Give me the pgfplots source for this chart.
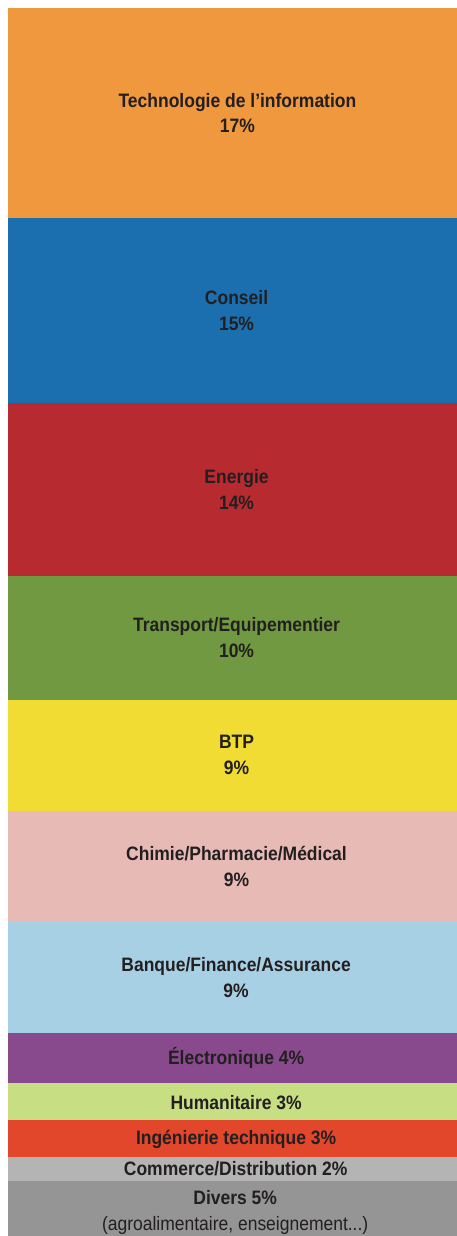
\documentclass[border=0pt]{standalone}
\usepackage{pgfplots}
\pgfplotsset{compat=1.18}
\usepackage{fontspec}
\setmainfont{Liberation Sans}[FakeStretch=0.9]
\definecolor{c1}{HTML}{F0983E}
\definecolor{c2}{HTML}{1B6FAE}
\definecolor{c3}{HTML}{B72B30}
\definecolor{c4}{HTML}{709942}
\definecolor{c5}{HTML}{F1DC33}
\definecolor{c6}{HTML}{E8BAB5}
\definecolor{c7}{HTML}{A8D0E4}
\definecolor{c8}{HTML}{884A8C}
\definecolor{c9}{HTML}{C7DE83}
\definecolor{c10}{HTML}{E2472B}
\definecolor{c11}{HTML}{B4B4B4}
\definecolor{c12}{HTML}{959595}
\definecolor{txt}{HTML}{231F20}
\tikzset{lbl/.style={font=\bfseries\fontsize{19.5}{26}\selectfont, align=center, text=txt}}
\begin{document}
\begin{tikzpicture}
\begin{axis}[at={(0,0)}, anchor=south west, scale only axis,
  width=449bp, height=1228bp, xmin=0, xmax=1, ymin=0, ymax=99.43,
  y dir=reverse, hide axis, ybar stacked, bar width=449bp, clip=true]
\addplot[fill=c1, draw=none] coordinates {(0.5,17)};
\addplot[fill=c2, draw=none] coordinates {(0.5,15)};
\addplot[fill=c3, draw=none] coordinates {(0.5,14)};
\addplot[fill=c4, draw=none] coordinates {(0.5,10)};
\addplot[fill=c5, draw=none] coordinates {(0.5,9)};
\addplot[fill=c6, draw=none] coordinates {(0.5,9)};
\addplot[fill=c7, draw=none] coordinates {(0.5,9)};
\addplot[fill=c8, draw=none] coordinates {(0.5,4)};
\addplot[fill=c9, draw=none] coordinates {(0.5,3)};
\addplot[fill=c10, draw=none] coordinates {(0.5,3)};
\addplot[fill=c11, draw=none] coordinates {(0.5,2)};
\addplot[fill=c12, draw=none] coordinates {(0.5,5)};
\coordinate (p1) at (axis cs:0.511,8.5);
\coordinate (p2) at (axis cs:0.509,24.5);
\coordinate (p3) at (axis cs:0.509,39);
\coordinate (p4) at (axis cs:0.509,51);
\coordinate (p5) at (axis cs:0.509,60.5);
\coordinate (p6) at (axis cs:0.509,69.5);
\coordinate (p7) at (axis cs:0.508,78.5);
\coordinate (p8) at (axis cs:0.508,85);
\coordinate (p9) at (axis cs:0.508,88.6);
\coordinate (p10) at (axis cs:0.508,91.6);
\coordinate (p11) at (axis cs:0.507,94);
\coordinate (p12) at (axis cs:0.506,97.5);
\end{axis}
\node[lbl] at (p1) {Technologie de l’information\\17\%};
\node[lbl] at (p2) {Conseil\\15\%};
\node[lbl] at (p3) {Energie\\14\%};
\node[lbl] at (p4) {Transport/Equipementier\\10\%};
\node[lbl] at (p5) {BTP\\9\%};
\node[lbl] at (p6) {Chimie/Pharmacie/Médical\\9\%};
\node[lbl] at (p7) {Banque/Finance/Assurance\\9\%};
\node[lbl] at (p8) {Électronique 4\%};
\node[lbl] at (p9) {Humanitaire 3\%};
\node[lbl] at (p10) {Ingénierie technique 3\%};
\node[lbl] at (p11) {Commerce/Distribution 2\%};
\node[lbl] at (p12) {Divers 5\%\\{\mdseries (agroalimentaire, enseignement...)}};
\pgfresetboundingbox
\path[use as bounding box] (-8bp,0) rectangle (449bp,1236bp);
\end{tikzpicture}
\end{document}
